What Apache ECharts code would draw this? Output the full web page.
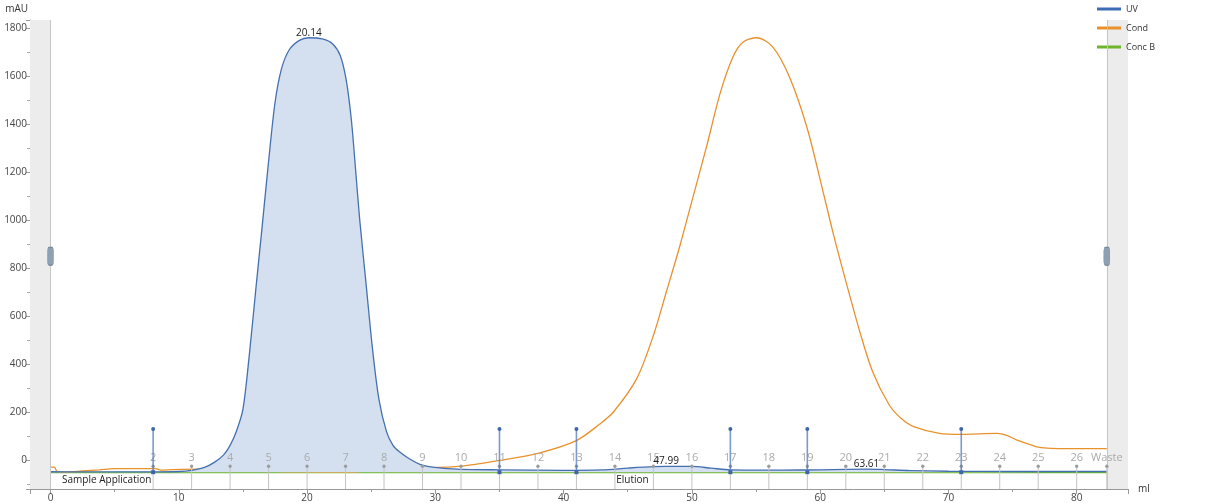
<!DOCTYPE html>
<html>
<head>
<meta charset="utf-8">
<script src="https://cdn.jsdelivr.net/npm/echarts@6/dist/echarts.min.js"></script>
<style>
html,body{margin:0;padding:0;background:#fff;}
#chart{width:1216px;height:503px;}
</style>
</head>
<body>
<div id="chart"></div>
<script>
// ---- data ----
const uvX = [0, 2, 5, 8, 10, 11, 12, 12.8, 13.5, 14.0, 14.5, 15.0, 15.5, 16.0, 16.5, 17.0, 17.5, 18.0, 18.6, 19.4, 20.14, 21.2, 22.0, 22.6, 23.05, 23.45, 23.8, 24.1, 24.6, 25.1, 25.6, 26.2, 26.7, 27.2, 28.0, 28.8, 29.5, 30.5, 32, 35, 40, 43, 45, 47, 48, 50, 51.5, 53, 57, 60, 62, 63.61, 65, 67, 70, 75, 82.35];
const uvY = [-48, -49, -49, -49, -47, -42, -30, -8, 22, 62, 122, 212, 440, 710, 975, 1245, 1490, 1630, 1710, 1750, 1761, 1756, 1735, 1685, 1585, 1420, 1200, 1005, 735, 465, 255, 118, 62, 35, 5, -17, -27, -33, -38, -40, -42, -40, -33, -27, -26, -26, -33, -40, -41, -40, -38, -37, -39, -43, -46, -47, -47];

const condX = [0, 0.3, 0.5, 1.2, 2.5, 3.8, 5, 8.2, 8.6, 9.5, 11.6, 14.2, 16, 17.5, 19.5, 22, 24, 25, 26.2, 29, 32, 35, 38, 41, 42.8, 43.9, 45.7, 47, 48, 49.06, 50.1, 51.15, 52.2, 53.2, 54, 55.05, 56.3, 57.6, 58.95, 60, 61, 62.1, 63.1, 64.1, 65.4, 66.3, 67.3, 69.3, 71, 73.8, 74.5, 75.3, 76.1, 76.8, 77.7, 79, 82.35];
const condY = [-29, -29, -46, -50, -45, -40, -35, -35, -41, -39, -37, -37, -41, -46, -49, -50, -48, -40, -36, -33, -25, -1, 29, 82, 150, 202, 340, 520, 700, 893, 1100, 1308, 1529, 1681, 1743, 1761, 1723, 1598, 1391, 1170, 949, 727, 534, 368, 229, 175, 140, 112, 108, 112, 105, 85, 70, 57, 50, 48, 48];

const concBX = [0, 82.35];
const concBY = [-51, -51];

const fracX = [8, 11, 14, 17, 20, 23, 26, 29, 32, 35, 38, 41, 44, 47, 50, 53, 56, 59, 62, 65, 68, 71, 74, 77, 80, 82.35];
const fracLabels = ['2','3','4','5','6','7','8','9','10','11','12','13','14','15','16','17','18','19','20','21','22','23','24','25','26','Waste'];

const injectX = [8, 35, 41, 53, 59, 71];

const peakX = [20.14, 47.99, 63.61];
const peakY = [1761, -26, -37];
const peakLabels = ['20.14', '47.99', '63.61'];

const phaseX = [0.9, 44.1];
const phaseLabels = ['Sample Application', 'Elution'];

const seriesNames = ['UV', 'Cond', 'Conc B'];
const seriesColors = ['#3a6db4', '#e8912d', '#6cb52c'];

// ---- layout constants ----
const X_MIN = -1.6, X_MAX = 84, Y_MIN = -120, Y_MAX = 1835;
const RUN_END = 82.35;
const FONT = 'Open Sans';

const zip = (xs, ys) => xs.map((x, i) => [x, ys[i]]);

const chart = echarts.init(document.getElementById('chart'), null, {renderer: 'canvas'});

const option = {
  animation: false,
  backgroundColor: '#fff',
  textStyle: {fontFamily: FONT},
  grid: {left: 30, right: 88, top: 20, bottom: 12, containLabel: false},
  legend: {
    data: seriesNames,
    orient: 'vertical',
    left: 1097, top: 3, padding: 0,
    itemWidth: 24, itemHeight: 3, itemGap: 7,
    icon: 'rect',
    textStyle: {fontSize: 9, color: '#333', fontFamily: FONT, lineHeight: 12},
    selectedMode: false
  },
  xAxis: {
    type: 'value', min: X_MIN, max: X_MAX, splitNumber: 8,
    name: 'ml', nameLocation: 'end', nameGap: 10,
    nameTextStyle: {fontSize: 10, color: '#333', align: 'left', padding: [12, 0, 0, 0]},
    axisLine: {show: true, onZero: false, lineStyle: {color: '#999'}},
    axisTick: {show: true, length: 5, lineStyle: {color: '#999'}},
    minorTick: {show: true, splitNumber: 2, length: 3, lineStyle: {color: '#999'}},
    axisLabel: {fontSize: 10, color: '#444', margin: 4, showMinLabel: false, showMaxLabel: false, formatter: v => String(v)},
    splitLine: {show: false}
  },
  yAxis: {
    type: 'value', min: Y_MIN, max: Y_MAX, splitNumber: 10,
    name: 'mAU', nameLocation: 'end', nameGap: 6,
    nameTextStyle: {fontSize: 10, color: '#333', align: 'right', padding: [0, 2, 0, 0]},
    axisLine: {show: true, onZero: false, lineStyle: {color: '#999'}},
    axisTick: {show: true, length: 4, lineStyle: {color: '#999'}},
    minorTick: {show: true, splitNumber: 2, length: 3, lineStyle: {color: '#aaa'}},
    axisLabel: {fontSize: 10, color: '#444', margin: 3, showMinLabel: false, showMaxLabel: false, formatter: v => String(v)},
    splitLine: {show: false}
  },
  series: [
    {
      name: 'Conc B', type: 'line', data: zip(concBX, concBY),
      showSymbol: false, z: 2,
      lineStyle: {color: seriesColors[2], width: 1.5},
      itemStyle: {color: seriesColors[2]},
      markArea: {
        silent: true,
        itemStyle: {color: '#ececec'},
        data: [[{xAxis: X_MIN}, {xAxis: 0}], [{xAxis: RUN_END}, {xAxis: X_MAX}]]
      },
      markLine: {
        silent: true, symbol: 'none', label: {show: false},
        lineStyle: {color: '#c6c6c6', type: 'solid', width: 1},
        data: [{xAxis: 0}, {xAxis: RUN_END}]
      },
      markPoint: {
        silent: true, symbol: 'roundRect', symbolSize: [6, 18],
        itemStyle: {color: '#8fa0b4', borderColor: '#6d7e92', borderWidth: 0.6},
        label: {show: false},
        data: [{coord: [0, 850]}, {coord: [RUN_END, 850]}]
      }
    },
    {
      name: 'UV', type: 'line', data: zip(uvX, uvY),
      showSymbol: false, smooth: 0.3, z: 4,
      lineStyle: {color: '#4470b0', width: 1.3},
      itemStyle: {color: seriesColors[0]},
      areaStyle: {color: '#d4e0f0', opacity: 1, origin: -50}
    },
    {
      name: 'Cond', type: 'line', data: zip(condX, condY),
      showSymbol: false, smooth: 0.3, z: 3,
      lineStyle: {color: seriesColors[1], width: 1.3},
      itemStyle: {color: seriesColors[1]}
    },
    {
      name: 'fractions', type: 'custom', z: 5, silent: true,
      data: fracX.map((x, i) => [x, i]),
      renderItem: (params, api) => {
        const x = api.value(0);
        const b = api.coord([x, Y_MIN]);
        const t = api.coord([x, -25]);
        const l = api.coord([x, 8]);
        return {type: 'group', children: [
          {type: 'line', shape: {x1: b[0], y1: b[1], x2: t[0], y2: t[1]}, style: {stroke: '#c4c4c4', lineWidth: 1}},
          {type: 'circle', shape: {cx: t[0], cy: t[1], r: 1.7}, style: {fill: '#9c9c9c'}},
          {type: 'text', x: l[0], y: l[1], style: {text: fracLabels[api.value(1)], fill: '#aaaaaa', font: '11px ' + FONT, align: 'center', verticalAlign: 'middle'}}
        ]};
      }
    },
    {
      name: 'injections', type: 'custom', z: 6, silent: true,
      data: injectX.map(x => [x]),
      renderItem: (params, api) => {
        const x = api.value(0);
        const b = api.coord([x, -50]);
        const t = api.coord([x, 130]);
        return {type: 'group', children: [
          {type: 'line', shape: {x1: b[0], y1: b[1], x2: t[0], y2: t[1]}, style: {stroke: 'rgba(80,120,190,0.75)', lineWidth: 1.6}},
          {type: 'circle', shape: {cx: t[0], cy: t[1], r: 2}, style: {fill: '#3f67a8'}},
          {type: 'rect', shape: {x: b[0] - 2, y: b[1] - 2, width: 4, height: 4}, style: {fill: '#3f67a8'}}
        ]};
      }
    },
    {
      name: 'peaks', type: 'custom', z: 7, silent: true,
      data: peakX.map((x, i) => [x, peakY[i], i]),
      renderItem: (params, api) => {
        const p = api.coord([api.value(0), api.value(1)]);
        return {type: 'text', x: p[0], y: p[1], style: {text: peakLabels[api.value(2)], fill: '#222', font: '10px ' + FONT, align: 'center', verticalAlign: 'bottom'}};
      }
    },
    {
      name: 'phases', type: 'custom', z: 7, silent: true,
      data: phaseX.map((x, i) => [x, -83, i]),
      renderItem: (params, api) => {
        const p = api.coord([api.value(0), api.value(1)]);
        return {type: 'text', x: p[0], y: p[1], style: {text: phaseLabels[api.value(2)], fill: '#222', font: '10px ' + FONT, align: 'left', verticalAlign: 'middle'}};
      }
    }
  ]
};
chart.setOption(option);
</script>
</body>
</html>
